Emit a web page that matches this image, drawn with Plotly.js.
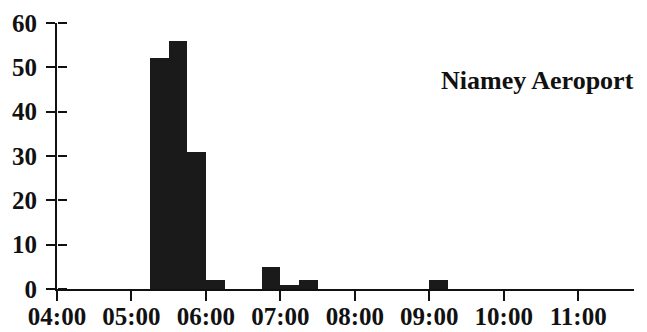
<!DOCTYPE html>
<html>
<head>
<meta charset="utf-8">
<script src="https://cdn.plot.ly/plotly-3.0.1.min.js"></script>
<style>html,body{margin:0;padding:0;background:#fff;}#chart{width:647px;height:332px;}</style>
</head>
<body>
<div id="chart"></div>
<script>
// 15-minute bins (start time) and counts
var binStarts = ["05:15","05:30","05:45","06:00","06:45","07:00","07:15","09:00"];
var counts    = [52, 56, 31, 2, 5, 1, 2, 2];
var hourTicks = ["04:00","05:00","06:00","07:00","08:00","09:00","10:00","11:00"];
var yTicks = [0, 10, 20, 30, 40, 50, 60];
var stationLabel = "Niamey Aeroport";

function toHours(s){ var p = s.split(":"); return +p[0] + (+p[1])/60; }
var binMinutes = 15;
var binW = binMinutes/60;
var xs = binStarts.map(function(s){ return toHours(s) + binW/2; });
var tickVals = hourTicks.map(toHours);

var font = {family: "Liberation Serif, Times New Roman, serif", color: "#111"};
var xr = [4, 11.75];
var yr = [0, 60];

var traces = [
  {type: "bar", x: xs, y: counts, width: binW,
   marker: {color: "#1a1a1a", line: {width: 0}}, hoverinfo: "skip", showlegend: false},
  // invisible helper so the tick-only overlay y axis gets drawn
  {type: "scatter", x: xr, y: yr, xaxis: "x", yaxis: "y2", mode: "markers",
   marker: {opacity: 0, size: 0}, hoverinfo: "skip", showlegend: false}
];

var layout = {
  width: 647, height: 332,
  margin: {l: 57, r: 13, t: 23, b: 43},
  paper_bgcolor: "#fff", plot_bgcolor: "rgba(0,0,0,0)",
  bargap: 0,
  font: font,
  xaxis: {range: xr, autorange: false, tickmode: "array", tickvals: tickVals, ticktext: hourTicks,
          ticks: "outside", ticklen: 10,
          tickwidth: 2, tickcolor: "#111", showline: true, linewidth: 2, linecolor: "#111",
          showgrid: false, zeroline: false, ticklabelstandoff: -6,
          tickfont: {family: font.family, size: 25, color: "#111", weight: "bold"}},
  yaxis: {range: yr, autorange: false, tickmode: "array", tickvals: yTicks,
          ticks: "outside", ticklen: 9, tickwidth: 2,
          tickcolor: "#111", showline: true, linewidth: 2, linecolor: "#111",
          showgrid: false, zeroline: false, ticklabelstandoff: 4,
          tickfont: {family: font.family, size: 25, color: "#111", weight: "bold"}},
  // rightward tick halves: a right-side axis placed on the left edge
  yaxis2: {overlaying: "y", anchor: "free", position: 0, side: "right", range: yr, autorange: false,
           tickmode: "array", tickvals: yTicks,
           ticks: "outside", ticklen: 9, tickwidth: 2, tickcolor: "#111",
           showticklabels: false, showline: false, showgrid: false, zeroline: false},
  annotations: [{text: stationLabel, xref: "paper", yref: "paper", x: 0.832, y: 0.785,
                 xanchor: "center", yanchor: "middle", showarrow: false,
                 font: {family: font.family, size: 26, color: "#111", weight: "bold"}}]
};

Plotly.newPlot("chart", traces, layout, {staticPlot: true, displayModeBar: false});
</script>
</body>
</html>
